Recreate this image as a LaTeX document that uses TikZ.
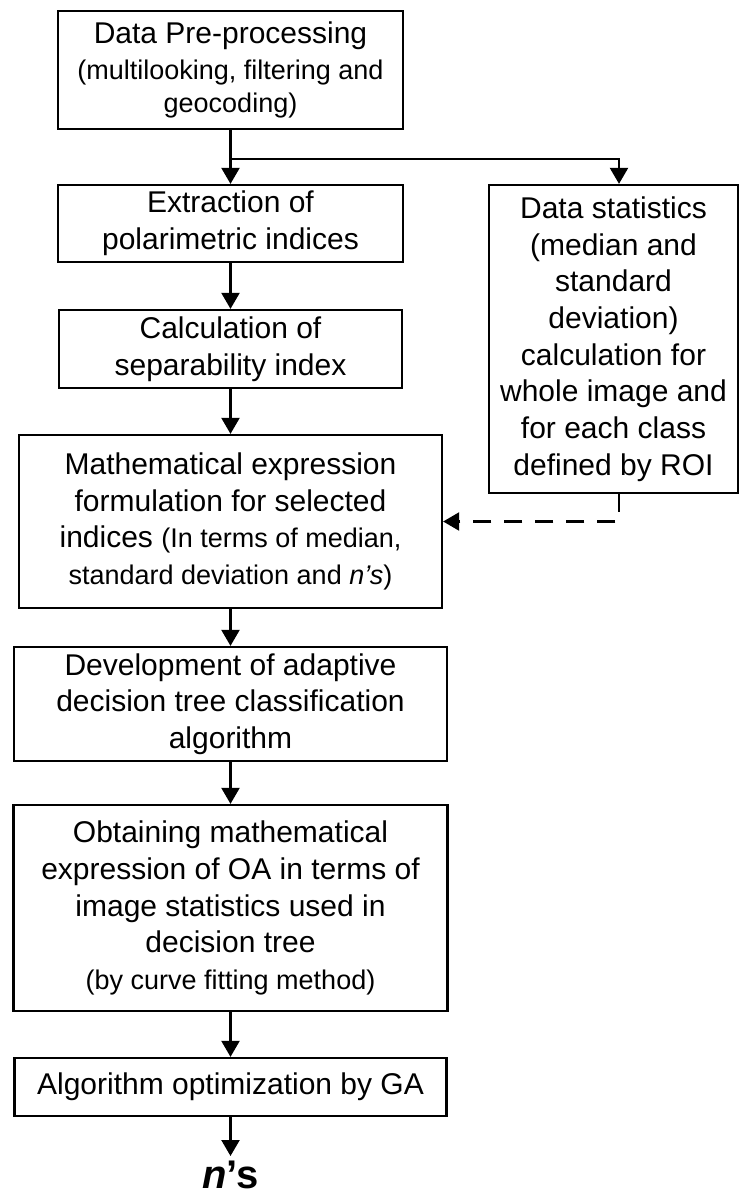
\documentclass[tikz,border=0pt]{standalone}
\usepackage{fontspec}
\setmainfont{Liberation Sans}
\usetikzlibrary{arrows.meta,calc}
\newcommand{\smalltxt}{\fontsize{27}{33}\selectfont}
\begin{document}
\begin{tikzpicture}[x=1pt,y=-1pt,
  box/.style={draw, line width=2.3pt, inner sep=0pt, align=center,
    font=\fontsize{30}{36.7}\selectfont},
  arr/.style={line width=2.3pt, -{Triangle[width=18pt,length=16pt]}},
]
\useasboundingbox (0,0) rectangle (739,1197);

\node[box, minimum width=345pt, minimum height=118pt] (pre) at (230.5,70)
  {Data Pre-processing\\[-1pt]
   {\smalltxt (multilooking, filtering and}\\[-4pt]
   {\smalltxt geocoding)}};
\node[box, minimum width=345pt, minimum height=77pt] (ext) at (230.5,223.5)
  {Extraction of\\polarimetric indices};
\node[box, minimum width=343pt, minimum height=78pt] (sep) at (230.5,349)
  {Calculation of\\separability index};
\node[box, minimum width=423pt, minimum height=173pt] (math) at (230.5,521.5)
  {Mathematical expression\\formulation for selected\\
   indices {\smalltxt (In terms of median,}\\
   {\smalltxt standard deviation and \textit{n’s})}};
\node[box, minimum width=433pt, minimum height=114pt] (dev) at (230.5,704)
  {Development of adaptive\\decision tree classification\\algorithm};
\node[box, minimum width=434pt, minimum height=206pt] (obt) at (230.5,908)
  {Obtaining mathematical\\expression of OA in terms of\\image statistics used in\\
   decision tree\\{\smalltxt (by curve fitting method)}};
\node[box, minimum width=432pt, minimum height=58pt] (alg) at (230.5,1087)
  {Algorithm optimization by GA};
\node[box, minimum width=249pt, minimum height=308pt] (stat) at (613.5,339)
  {Data statistics\\(median and\\standard\\deviation)\\calculation for\\
   whole image and\\for each class\\defined by ROI};
\node[anchor=north, inner sep=0pt, text height=32pt, text depth=0pt,
  font=\fontsize{40}{48}\selectfont\bfseries] (ns) at (230.5,1156)
  {\textit{n}’s};

\coordinate (br) at (230.5,159);

\draw[arr] (pre.south) -- (ext.north);
\draw[arr] (br) -| ([xshift=5.5pt]stat.north);
\draw[arr] (ext.south) -- (sep.north);
\draw[arr] (sep.south) -- (math.north);
\draw[arr, dash pattern=on 18pt off 13pt] ([xshift=5.5pt]stat.south) |- (math.east);
\draw[arr] (math.south) -- (dev.north);
\draw[arr] (dev.south) -- (obt.north);
\draw[arr] (obt.south) -- (alg.north);
\draw[arr] (alg.south) -- (ns.north);
\end{tikzpicture}
\end{document}
